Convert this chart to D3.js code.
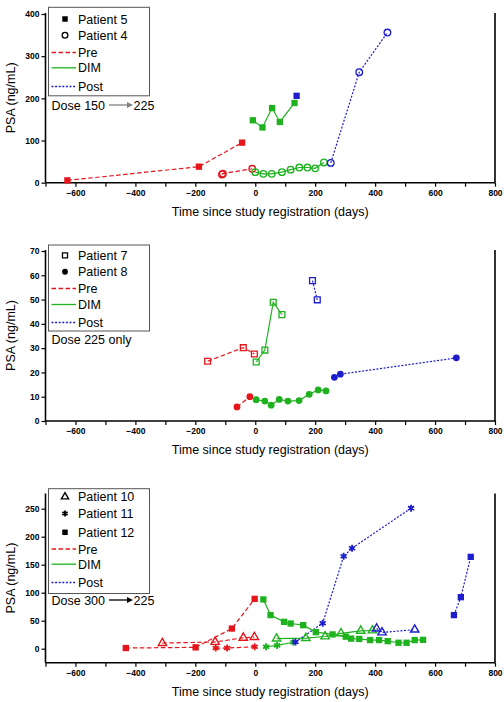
<!DOCTYPE html>
<html><head><meta charset="utf-8">
<script src="https://cdn.jsdelivr.net/npm/d3@7"></script>
<style>body{margin:0;background:#fff}svg{display:block;font-family:"Liberation Sans",Arial,sans-serif}</style>
</head><body><svg id="c" width="504" height="702"></svg>
<script>
// ---------- DATA ----------
const xTicks = [-600, -400, -200, 0, 200, 400, 600, 800];
const xMinorTicks = [-700, -500, -300, -100, 100, 300, 500, 700];
const yTicksA = [0, 100, 200, 300, 400];
const yTicksB = [0, 10, 20, 30, 40, 50, 60, 70];
const yTicksC = [0, 50, 100, 150, 200, 250];
const phaseNames = ["Pre", "DIM", "Post"];
const xTitle = "Time since study registration (days)";
const yTitle = "PSA (ng/mL)";

// Panel A: Patients 5 and 4  [day, PSA]
const patient5Pre  = [[-627, 5.5], [-188, 38], [-44, 95]];
const patient5Dim  = [[-8, 148], [24, 131], [56, 177], [82, 144], [131, 189]];
const patient5Post = [[138, 206]];
const patient4Pre  = [[-111, 19.5], [-108, 21.5], [-10, 33]];
const patient4Dim  = [[0, 25], [27, 21], [55, 21], [89, 25], [118, 31], [147, 36], [174, 36], [200, 34], [229, 48]];
const patient4Post = [[252, 47], [347, 262], [441, 356]];

// Panel B: Patients 7 and 8
const patient7Pre  = [[-159, 24.6], [-40, 30.2], [-3, 27.6]];
const patient7Dim  = [[3, 24.3], [32, 29.2], [60, 48.9], [89, 43.8]];
const patient7Post = [[191, 57.8], [207, 49.9]];
const patient8Pre  = [[-61, 5.8], [-18, 10]];
const patient8Dim  = [[3, 8.8], [32, 8.2], [53, 6.5], [80, 8.9], [109, 8.2], [146, 8.4], [180, 11], [210, 12.8], [236, 12.4]];
const patient8Post = [[264, 18], [284, 19.3], [671, 26]];

// Panel C: Patients 10, 11 and 12
const patient10Pre  = [[-310, 10], [-134, 12], [-40, 19.5], [-3, 20.7]];
const patient10Dim  = [[71, 18], [169, 19], [233, 21.8], [286, 27.5], [352, 32], [391, 32.5]];
const patient10Post = [[405, 36], [423, 29], [532, 34]];
const patient11Pre  = [[-132, 1.2], [-94, 1.2], [-2, 3.5]];
const patient11Dim  = [[36, 3.5], [73, 5.9], [127, 11.5]];
const patient11Post = [[134, 12], [225, 45.5], [295, 165], [323, 179.5], [520, 251]];
const patient12Pre  = [[-432, 1.2], [-199, 2.4], [-78, 36], [-2, 89]];
const patient12Dim  = [[27, 88], [51, 60], [96, 48], [118, 45], [160, 42], [202, 29.6], [258, 25.5], [302, 21.5],
                       [320, 18], [347, 17.5], [383, 15.4], [413, 15.4], [442, 13.5], [478, 10.6], [505, 10.6], [532, 15.4], [560, 15.8]];
const patient12Post = [[663, 60], [686, 92], [719, 164]];

// ---------- STYLE / LAYOUT ----------
const RED = "#e4161c", GREEN = "#1eb21e", BLUE = "#1d1dcc";
const phaseColor = [RED, GREEN, BLUE];
const phaseDash = ["4.5,2.5", null, "2,1.6"];

const panels = [
  { yDomain: [0, 400], yRange: [182.7, 14], yTicks: yTicksA, xAxisY: 182.7, top: 13,
    series: [
      { name: "Patient 5", marker: "sqFill", phases: [patient5Pre, patient5Dim, patient5Post] },
      { name: "Patient 4", marker: "circOpen", phases: [patient4Pre, patient4Dim, patient4Post] } ],
    box: [48.5, 7.3, 101, 88.5], rows: [19, 35.3, 52.5, 67.8, 86.5],
    dose: { y: 109.5, parts: ["Dose 150", "225"], arrowColor: "#808080" } },
  { yDomain: [0, 70], yRange: [421, 251], yTicks: yTicksB, xAxisY: 421, top: 250,
    series: [
      { name: "Patient 7", marker: "sqOpen", phases: [patient7Pre, patient7Dim, patient7Post] },
      { name: "Patient 8", marker: "circFill", phases: [patient8Pre, patient8Dim, patient8Post] } ],
    box: [48.5, 245, 101, 86], rows: [255.3, 271.8, 288.5, 304.5, 322.5],
    dose: { y: 343.5, parts: ["Dose 225 only"] } },
  { yDomain: [-25, 275], yRange: [662.7, 494.7], yTicks: yTicksC, xAxisY: 662.7, top: 493.5,
    series: [
      { name: "Patient 10", marker: "triOpen", phases: [patient10Pre, patient10Dim, patient10Post] },
      { name: "Patient 11", marker: "star", phases: [patient11Pre, patient11Dim, patient11Post] },
      { name: "Patient 12", marker: "sqFill", phases: [patient12Pre, patient12Dim, patient12Post] } ],
    box: [48.5, 488.7, 101, 104.8], rows: [496.8, 513.5, 532.3, 549, 564.2, 582.5],
    dose: { y: 604.5, parts: ["Dose 300", "225"], arrowColor: "#000" } }
];

const svg = d3.select("#c");
const x = d3.scaleLinear().domain([-700, 800]).range([45.5, 495]);

function marker(g, type, cx, cy, color, scale) {
  const s = scale || 1;
  let sym, fill = "none", sw = 1.2, size = 40 * s;
  if (type === "sqFill") { sym = d3.symbolSquare; fill = color; sw = 0; size = 40 * s; }
  else if (type === "sqOpen") { sym = d3.symbolSquare; size = 34 * s; sw = 1.3; }
  else if (type === "circOpen") { sym = d3.symbolCircle; size = 34 * s; sw = 1.3; }
  else if (type === "circFill") { sym = d3.symbolCircle; fill = color; sw = 0; size = 36 * s; }
  else if (type === "triOpen") { sym = d3.symbolTriangle; size = 30 * s; sw = 1.4; }
  else if (type === "star") { sym = d3.symbolAsterisk; size = 34 * s; sw = 1.8; }
  g.append("path")
    .attr("d", d3.symbol().type(sym).size(size)())
    .attr("transform", `translate(${cx},${cy})`)
    .attr("fill", fill).attr("stroke", color).attr("stroke-width", sw);
  if (type === "star") {
    g.append("circle").attr("cx", cx).attr("cy", cy).attr("r", 1.5 * s).attr("fill", color);
  }
}

panels.forEach(p => {
  const y = d3.scaleLinear().domain(p.yDomain).range(p.yRange);
  const g = svg.append("g");
  const bottom = p.yRange[0];

  // right frame line
  g.append("line").attr("x1", x(800)).attr("x2", x(800)).attr("y1", p.top).attr("y2", bottom)
    .attr("stroke", "#000").attr("stroke-width", 1.6);

  // y axis
  const ya = g.append("g").attr("transform", `translate(${x(-700)},0)`)
    .call(d3.axisLeft(y).tickValues(p.yTicks).tickSize(4).tickPadding(2).tickFormat(d3.format("d")));
  ya.select(".domain").attr("stroke-width", 1.6).attr("d", `M-0,${p.top}V${bottom}`);
  ya.selectAll(".tick line").attr("stroke-width", 1.2);
  ya.selectAll("text").attr("font-size", 8.5).attr("font-weight", "bold")
    .attr("font-family", '"Liberation Sans",Arial,sans-serif').attr("fill", "#000");

  // x axis
  const xa = g.append("g").attr("transform", `translate(0,${p.xAxisY})`)
    .call(d3.axisBottom(x).tickValues(xTicks).tickSize(4).tickPadding(3).tickFormat(d3.format("d")));
  xa.select(".domain").attr("stroke-width", 1.6).attr("d", `M${x(-700)},0H${x(800)}`);
  xa.selectAll(".tick line").attr("stroke-width", 1.2);
  xa.selectAll("text").attr("font-size", 8.5).attr("font-weight", "bold")
    .attr("font-family", '"Liberation Sans",Arial,sans-serif').attr("fill", "#000");
  g.append("g").attr("transform", `translate(0,${p.xAxisY})`)
    .call(d3.axisBottom(x).tickValues(xMinorTicks).tickSize(4).tickFormat(""))
    .call(a => a.select(".domain").remove())
    .selectAll(".tick line").attr("stroke-width", 1.2);

  // titles
  g.append("text").attr("x", (x(-700) + x(800)) / 2).attr("y", p.xAxisY + 33)
    .attr("text-anchor", "middle").attr("font-size", 12.5).text(xTitle);
  g.append("text").attr("transform", `translate(15,${(p.top + bottom) / 2}) rotate(-90)`)
    .attr("text-anchor", "middle").attr("font-size", 12.5).text(yTitle);

  // data lines
  const line = d3.line().x(d => x(d[0])).y(d => y(d[1]));
  p.series.forEach(s => {
    s.phases.forEach((pts, i) => {
      if (pts.length > 1) {
        g.append("path").attr("d", line(pts)).attr("fill", "none")
          .attr("stroke", phaseColor[i]).attr("stroke-width", 1.2)
          .attr("stroke-dasharray", phaseDash[i]);
      }
    });
  });
  p.series.forEach(s => {
    s.phases.forEach((pts, i) => {
      pts.forEach(d => marker(g, s.marker, x(d[0]), y(d[1]), phaseColor[i]));
    });
  });

  // legend
  const [bx, by, bw, bh] = p.box;
  g.append("rect").attr("x", bx).attr("y", by).attr("width", bw).attr("height", bh)
    .attr("fill", "#fff").attr("stroke", "#555").attr("stroke-width", 1);
  p.series.forEach((s, i) => {
    marker(g, s.marker, 65, p.rows[i], "#000", 0.75);
    g.append("text").attr("x", 78).attr("y", p.rows[i] + 4.5).attr("font-size", 12.5).text(s.name);
  });
  phaseNames.forEach((n, i) => {
    const ry = p.rows[p.series.length + i];
    g.append("line").attr("x1", 51.5).attr("x2", 76).attr("y1", ry).attr("y2", ry)
      .attr("stroke", phaseColor[i]).attr("stroke-width", 1.3).attr("stroke-dasharray", phaseDash[i]);
    g.append("text").attr("x", 78).attr("y", ry + 4.5).attr("font-size", 12.5).text(n);
  });

  // dose annotation
  const t1 = g.append("text").attr("x", 51.5).attr("y", p.dose.y).attr("font-size", 12.5).text(p.dose.parts[0]);
  if (p.dose.parts.length > 1) {
    const w = t1.node().getComputedTextLength();
    const ax0 = 51.5 + w + 4, ax1 = ax0 + 24;
    const ay = p.dose.y - 4.5;
    g.append("line").attr("x1", ax0).attr("x2", ax1 - 5).attr("y1", ay).attr("y2", ay)
      .attr("stroke", p.dose.arrowColor).attr("stroke-width", 1.3);
    g.append("path").attr("d", `M${ax1},${ay}L${ax1 - 6},${ay - 3}L${ax1 - 6},${ay + 3}Z`)
      .attr("fill", p.dose.arrowColor);
    g.append("text").attr("x", ax1 + 0.5).attr("y", p.dose.y).attr("font-size", 12.5).text(p.dose.parts[1]);
  }
});
</script>
</body></html>
